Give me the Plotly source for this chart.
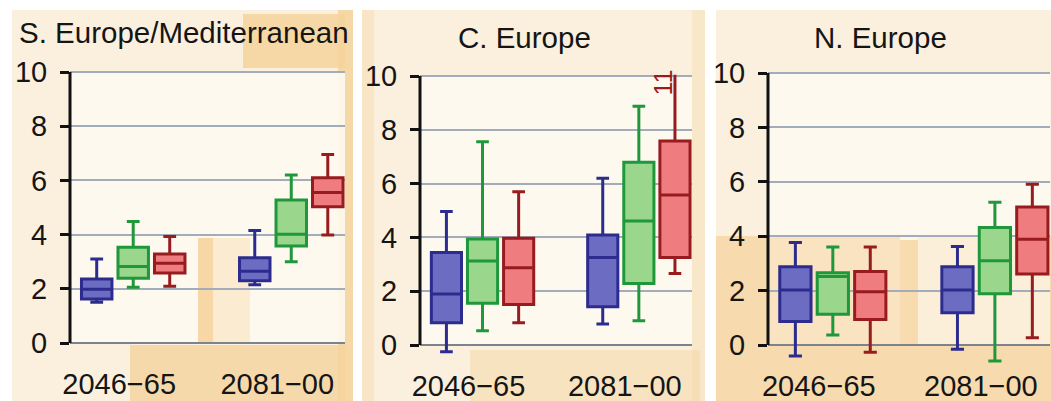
import plotly.graph_objects as go

# ---- data -------------------------------------------------------------
periods = ["2046\u221265", "2081\u221200"]
regions = ["S. Europe/Mediterranean", "C. Europe", "N. Europe"]
scenarios = ["B1", "A1B", "A2"]

# each list: [B1, A1B, A2], each entry: [2046-65, 2081-00]
seur_low = [[1.50, 2.15], [2.06, 3.00], [2.09, 3.99]]
seur_q1 = [[1.62, 2.30], [2.39, 3.58], [2.58, 5.03]]
seur_med = [[1.98, 2.65], [2.82, 4.01], [2.94, 5.55]]
seur_q3 = [[2.36, 3.15], [3.53, 5.28], [3.28, 6.10]]
seur_high = [[3.10, 4.15], [4.48, 6.20], [3.93, 6.96]]

ceur_low = [[-0.25, 0.78], [0.53, 0.90], [0.83, 2.66]]
ceur_q1 = [[0.83, 1.42], [1.55, 2.29], [1.51, 3.25]]
ceur_med = [[1.90, 3.25], [3.12, 4.61], [2.87, 5.58]]
ceur_q3 = [[3.44, 4.09], [3.94, 6.79], [3.97, 7.58]]
ceur_high = [[4.96, 6.20], [7.56, 8.88], [5.70, 11.0]]

neur_low = [[-0.40, -0.16], [0.37, -0.59], [-0.27, 0.27]]
neur_q1 = [[0.86, 1.19], [1.13, 1.88], [0.94, 2.61]]
neur_med = [[2.02, 2.02], [2.52, 3.10], [1.96, 3.89]]
neur_q3 = [[2.88, 2.88], [2.66, 4.32], [2.70, 5.07]]
neur_high = [[3.77, 3.62], [3.60, 5.25], [3.60, 5.91]]

y_ticks = [0, 2, 4, 6, 8, 10]

# ---- styling ----------------------------------------------------------
W, H = 1051, 401
FONT = "Liberation Sans, Arial, Helvetica, sans-serif"
TXT = "#151515"
fills = ["#6c6cc2", "#9ad68b", "#ef7c7e"]
edges = ["#2c2c8e", "#1f983c", "#981c1f"]

# per panel: x domain (px), y pixel of value 10 and value 0
panel_x = [(70, 345), (420, 692), (768, 1050)]
panel_y = [(72, 343), (76, 345), (73, 345)]
Y_LO, Y_HI = -0.7, 10.05
X_RANGE = [-0.40, 1.34]

stats = [
    (seur_low, seur_q1, seur_med, seur_q3, seur_high),
    (ceur_low, ceur_q1, ceur_med, ceur_q3, ceur_high),
    (neur_low, neur_q1, neur_med, neur_q3, neur_high),
]

fig = go.Figure()

for p, (lo, q1, med, q3, hi) in enumerate(stats):
    xa = "x" if p == 0 else f"x{p + 1}"
    ya = "y" if p == 0 else f"y{p + 1}"
    for s, name in enumerate(scenarios):
        fig.add_trace(go.Box(
            x=periods,
            lowerfence=lo[s], q1=q1[s], median=med[s], q3=q3[s], upperfence=hi[s],
            name=name, offsetgroup=name,
            fillcolor=fills[s],
            line=dict(color=edges[s], width=3),
            whiskerwidth=0.42,
            showlegend=False,
            xaxis=xa, yaxis=ya,
        ))


def px_x(v):
    return v / W


def px_y(v):
    return 1 - v / H


layout_axes = {}
for p in range(3):
    x0, x1 = panel_x[p]
    p10, p0 = panel_y[p]
    unit = (p0 - p10) / 10.0
    bottom = p0 - Y_LO * unit
    top = p0 - Y_HI * unit
    sx = "" if p == 0 else str(p + 1)
    layout_axes[f"xaxis{sx}"] = dict(
        domain=[px_x(x0), px_x(x1)], anchor=f"y{sx}",
        type="category", range=X_RANGE, automargin=False,
        showgrid=False, showline=False, zeroline=False, ticks="",
        tickfont=dict(family=FONT, size=29, color=TXT),
        ticklabelshift=-14, ticklabelstandoff=2,
    )
    layout_axes[f"yaxis{sx}"] = dict(
        domain=[px_y(bottom), px_y(top)], anchor=f"x{sx}",
        range=[Y_LO, Y_HI], tickvals=y_ticks, automargin=False,
        showgrid=True, gridcolor="#a3acba", gridwidth=2,
        zeroline=True, zerolinecolor="#7c838d", zerolinewidth=2,
        showline=False, ticks="outside", ticklen=9, tickwidth=3, tickcolor="#111",
        tickfont=dict(family=FONT, size=29, color=TXT),
        ticklabelstandoff=7,
    )

shapes = []


def rect(x0, y0, x1, y1, color, opacity=1.0):
    shapes.append(dict(type="rect", xref="paper", yref="paper",
                       x0=px_x(x0), x1=px_x(x1), y0=px_y(y1), y1=px_y(y0),
                       fillcolor=color, opacity=opacity, line_width=0, layer="below"))


# panel backgrounds
cream = "#fbf0de"
rect(12, 10, 353, 401, cream)
rect(362, 10, 705, 401, cream)
rect(716, 10, 1051, 401, cream)

# aged-paper stains
orange = "#f5d39c"
rect(243, 14, 345, 68, orange, 0.85)
rect(338, 10, 353, 401, orange, 0.85)
rect(130, 345, 345, 401, orange, 0.8)
rect(362, 10, 374, 401, orange, 0.35)
rect(470, 350, 700, 401, orange, 0.45)
rect(692, 10, 705, 401, orange, 0.3)
rect(716, 236, 1051, 401, orange, 0.75)

# plot areas
paper_light = "#fdf9f1"
for p in range(3):
    x0, x1 = panel_x[p]
    p10, p0 = panel_y[p]
    rect(x0, p10, x1, p0, paper_light, 0.9)

# stains on top of the plot areas
rect(198, 238, 213, 343, orange, 0.9)
rect(213, 238, 250, 343, orange, 0.35)
rect(768, 236, 900, 345, orange, 0.55)
rect(900, 240, 918, 345, orange, 0.75)
rect(918, 236, 1050, 345, orange, 0.2)

# vertical axis lines from 0 to 10
for p in range(3):
    sx = "" if p == 0 else str(p + 1)
    shapes.append(dict(type="line", xref=f"x{sx} domain", yref=f"y{sx}",
                       x0=0, x1=0, y0=0, y1=10,
                       line=dict(color="#111", width=3)))

annotations = []
title_pos = [(17, "left", 33), (524, "center", 37), (880, "center", 37)]
for p, (tx, anchor, ty) in enumerate(title_pos):
    annotations.append(dict(
        text=regions[p], xref="paper", yref="paper",
        x=px_x(tx), y=px_y(ty), xanchor=anchor, yanchor="middle",
        showarrow=False, font=dict(family=FONT, size=29.5, color=TXT),
    ))

# value of the off-scale upper whisker (C. Europe, A2, 2081-00)
off_value = ceur_high[2][1]
annotations.append(dict(
    text=f"{off_value:g}", xref="x2", yref="y2",
    x=periods[1], y=9.75, xshift=24, textangle=-90,
    showarrow=False, font=dict(family=FONT, size=25, color=edges[2]),
))

fig.update_layout(
    width=W, height=H,
    margin=dict(l=0, r=0, t=0, b=0, autoexpand=False),
    paper_bgcolor="white", plot_bgcolor="rgba(0,0,0,0)",
    boxmode="group", boxgap=0.307, boxgroupgap=0.165,
    shapes=shapes, annotations=annotations,
    showlegend=False,
    **layout_axes,
)

fig.write_html("out.html")
